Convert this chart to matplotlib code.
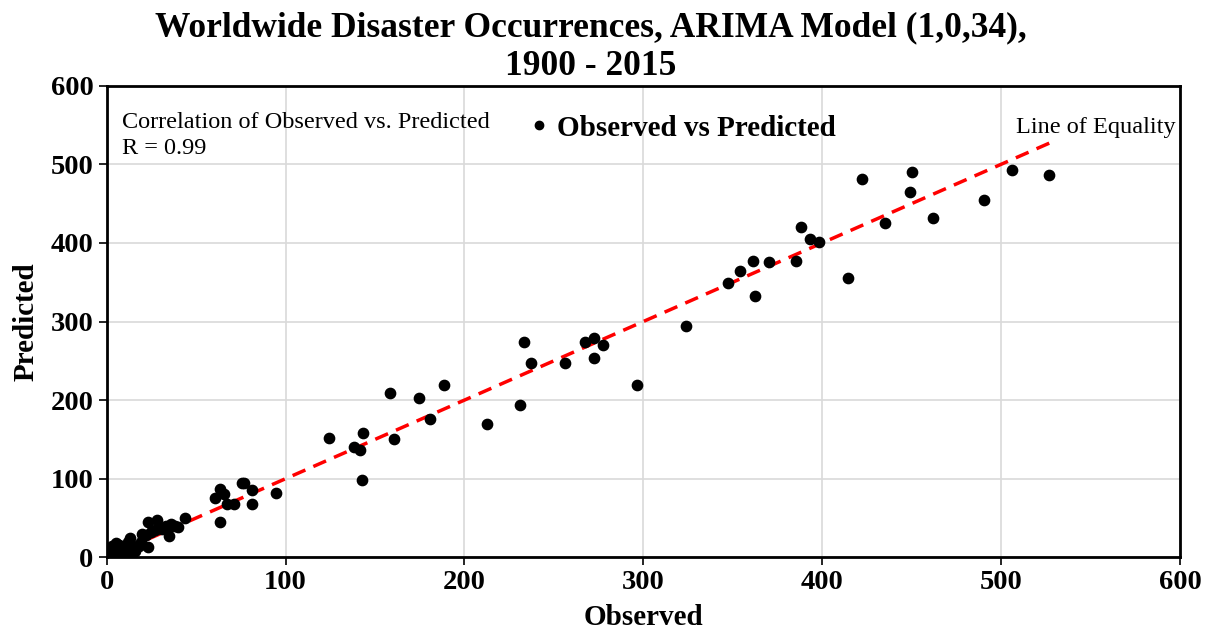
import matplotlib.pyplot as plt
from matplotlib.lines import Line2D

# Observed vs predicted annual disaster counts (ARIMA fit)
observed = [1, 2, 3, 4, 2, 5, 6, 3, 5, 7, 8, 9, 10, 11, 12, 13, 14, 15, 16, 17,
            18, 19, 20, 22, 23, 23, 25, 27, 28, 30, 31, 33, 35, 35, 36, 38, 40, 44,
            60.5, 63.6, 65.5, 63.6, 67.4, 71.4, 75.4, 77, 81.3, 81.3, 94.5,
            124.5, 138.4, 141.4, 143.4, 143, 158.3, 160.4, 174.5, 180.6, 188.5,
            212.6, 231.3, 233.3, 237.2, 256.4, 267.3, 272.2, 272.2, 277.2, 296.4,
            324.1, 347.3, 354.2, 361.1, 362.2, 370.2, 385.3, 388.3, 393.3, 398.1,
            414.5, 422.1, 435.2, 449.3, 450.2, 462.1, 490.2, 506.0, 526.9]
predicted = [1, 3, 0, 5, 8, 2, 10, 15, 18, 16, 5, 2, 12, 8, 20, 24, 4, 12, 8, 15,
             14, 20, 30, 28, 45, 13, 32, 35, 48, 37, 36, 40, 39, 27, 42, 40, 38, 50,
             75, 87, 80, 45, 68, 68, 95, 95, 86, 68, 82,
             152, 140.7, 137, 157.6, 98, 209, 150, 203, 175.4, 219.5,
             170, 194, 273.7, 246.6, 246.6, 273.7, 278.8, 253.4, 270.4, 218.6,
             294.9, 349, 364.8, 376.6, 332, 375.8, 377.5, 419.9, 405, 401.3,
             355.5, 481.8, 425.4, 465.2, 490.2, 431.8, 455, 493.2, 486.8]
r_value = 0.99
title_lines = ['Worldwide Disaster Occurrences, ARIMA Model (1,0,34),', '1900 - 2015']

plt.rcParams['font.family'] = ['Liberation Serif', 'DejaVu Serif']

fig = plt.figure(figsize=(12.11, 6.33), dpi=100)
ax = fig.add_axes([0.0881, 0.1196, 0.8863, 0.745])

# equality line drawn from the origin out to the largest observation
x_end = max(observed)
ax.plot([0, x_end], [0, x_end], color='#ff0000', linestyle=(0, (4, 2.5)),
        linewidth=2.5, zorder=2)
ax.scatter(observed, predicted, s=55, color='black', zorder=3)

ax.set_xlim(0, 600)
ax.set_ylim(0, 600)
ax.set_xticks(range(0, 601, 100))
ax.set_yticks(range(0, 601, 100))
ax.grid(True, color='#d9d9d9', linewidth=1.2)
ax.set_axisbelow(True)
for side in ax.spines.values():
    side.set_linewidth(2)
    side.set_color('black')
ax.tick_params(direction='out', length=6, width=1.2, labelsize=20.5)
for lbl in ax.get_xticklabels() + ax.get_yticklabels():
    lbl.set_fontweight('bold')

ax.set_xlabel('Observed', fontsize=21, fontweight='bold', labelpad=6)
ax.set_ylabel('Predicted', fontsize=21, fontweight='bold', labelpad=8)

# two-line title, each line placed on its own
fig.text(0.488, 0.956, title_lines[0], ha='center', va='center',
         fontsize=25.5, fontweight='bold')
fig.text(0.488, 0.895, title_lines[1], ha='center', va='center',
         fontsize=25.5, fontweight='bold')

ax.text(0.014, 0.945, f'Correlation of Observed vs. Predicted\nR = {r_value}',
        transform=ax.transAxes, ha='left', va='top', fontsize=17.5, linespacing=1.35)
ax.text(0.996, 0.912, 'Line of Equality', transform=ax.transAxes,
        ha='right', va='center', fontsize=17.5)

handle = Line2D([], [], marker='o', color='black', linestyle='none', markersize=6)
ax.legend([handle], ['Observed vs Predicted'], loc='center',
          bbox_to_anchor=(0.534, 0.91), frameon=False, handletextpad=0.1,
          handlelength=1.0, borderaxespad=0, prop={'weight': 'bold', 'size': 21})

fig.savefig('out.png', dpi=100)
